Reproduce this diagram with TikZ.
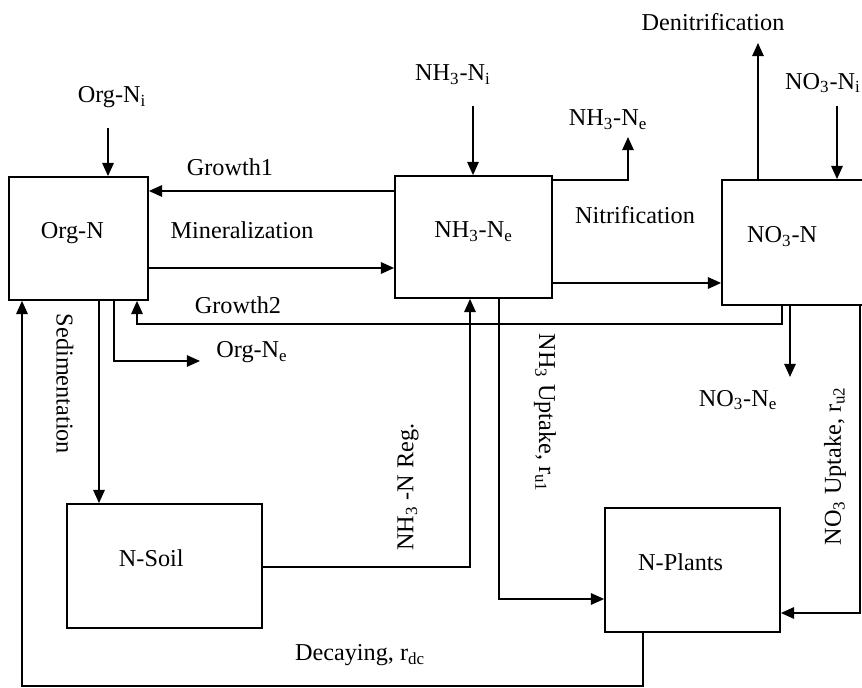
\documentclass[tikz,border=0pt]{standalone}
\usepackage{fontspec}
\setmainfont{Liberation Serif}
\usetikzlibrary{arrows.meta}
\newcommand{\subtxt}[1]{\textsubscript{#1}}

\begin{document}
\begin{tikzpicture}[x=0.02cm, y=-0.02cm, line width=1pt, font=\fontsize{13.8}{16}\selectfont,
  box/.style={draw, inner sep=0pt, text height=9.5pt, text depth=9pt},
  arr/.style={-{Triangle[length=7.5pt,width=6.5pt]}}]
\useasboundingbox (0,0) rectangle (862,688);
\clip (0,0) rectangle (862,688);
\begin{scope}
\node[box, minimum width=2.78cm, minimum height=2.46cm] (orgn) at (78.5,238.5) {Org-N\kern7pt};
\node[box, minimum width=3.14cm, minimum height=2.44cm] (nh3) at (473.5,237) {NH\subtxt{3}-N\subtxt{e}};
\node[box, minimum width=2.88cm, minimum height=2.5cm] (no3) at (794,242.5) {NO\subtxt{3}-N\kern13.5pt};
\node[box, minimum width=3.9cm, minimum height=2.48cm] (nsoil) at (164.5,566) {N-Soil\kern15pt};
\node[box, minimum width=3.5cm, minimum height=2.48cm] (nplants) at (692.5,570) {N-Plants\kern13.5pt};
\end{scope}
\begin{scope}
\node (orgni) at (112,97) {Org-N\subtxt{i}};
\node (nh3ni) at (453,75) {NH\subtxt{3}-N\subtxt{i}};
\node (no3ni) at (823,83) {NO\subtxt{3}-N\subtxt{i}};
\node (nh3ne) at (608,120) {NH\subtxt{3}-N\subtxt{e}};
\node (denit) at (713,22) {Denitrification};
\node (growth1) at (230,167) {Growth1};
\node (miner) at (242,230) {Mineralization};
\node (nitrif) at (635,215) {Nitrification};
\node (growth2) at (238,305) {Growth2};
\node (orgne) at (252,352) {Org-N\subtxt{e}};
\node (no3ne) at (738,400) {NO\subtxt{3}-N\subtxt{e}};
\node[rotate=-90] (sedim) at (65,384) {Sedimentation};
\node[rotate=90] (nh3reg) at (408,487) {NH\subtxt{3} -N Reg.};
\node[rotate=-90] (upt1) at (545,413) {NH\subtxt{3} Uptake, r\subtxt{u1}};
\node[rotate=90] (upt2) at (835,466) {NO\subtxt{3} Uptake, r\subtxt{u2}};
\node (decay) at (360,655) {Decaying, r\subtxt{dc}};
\end{scope}
\begin{scope}
\coordinate (orgnin) at (108,128);
\coordinate (nh3nin) at (473,106);
\coordinate (no3nin) at (837,106);
\coordinate (nh3out) at (628,137);
\coordinate (denout) at (758,43);
\coordinate (no3out) at (790,377);
\coordinate (orgout) at (200,361);
\coordinate (g2) at (137,324);
\coordinate (dc) at (22,686);
\draw[arr] (orgnin) -- (orgnin |- orgn.north);
\draw[arr] (nh3nin) -- (nh3nin |- nh3.north);
\draw[arr] (no3nin) -- (no3nin |- no3.north);
\draw[arr] (nh3.east |- 0,180) -| (nh3out);
\draw[arr] (no3.north -| denout) -- (denout);
\draw[arr] (nh3.west |- 0,191) -- (orgn.east |- 0,191);
\draw[arr] (orgn.east |- 0,268) -- (nh3.west |- 0,268);
\draw[arr] (nh3.east |- 0,283) -- (no3.west |- 0,283);
\draw[arr] (no3.south -| 782,0) |- (g2) -- (g2 |- orgn.south);
\draw[arr] (no3.south -| no3out) -- (no3out);
\draw[arr] (orgn.south -| orgout) ++(-86,0) |- (orgout);
\draw[arr] (orgn.south -| 99,0) -- (nsoil.north -| 99,0);
\draw[arr] (nsoil.east |- 0,567) -| (nh3.south -| 470,0);
\draw[arr] (nh3.south -| 499,0) |- (nplants.west |- 0,599);
\draw[arr] (no3.south -| 860,0) |- (nplants.east |- 0,613);
\draw[arr] (nplants.south -| 643,0) |- (dc) -- (dc |- orgn.south);
\end{scope}
\end{tikzpicture}
\end{document}
